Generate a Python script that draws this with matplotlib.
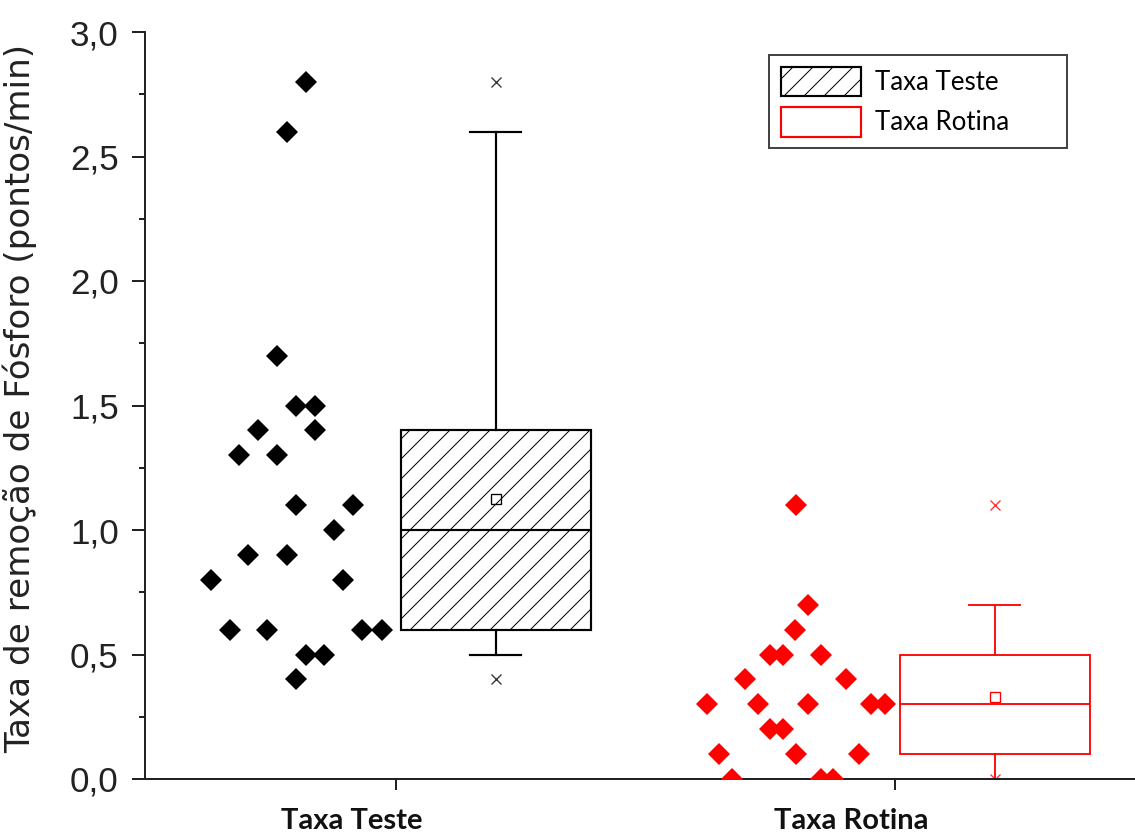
# Taxa de remoção de Fósforo: pontos + boxplot (Teste x Rotina)

import matplotlib
matplotlib.use('Agg')
import matplotlib.pyplot as plt
import matplotlib.transforms as mtransforms
from matplotlib.patches import Patch
from matplotlib.ticker import MultipleLocator
import numpy as np

categories = ['Taxa Teste', 'Taxa Rotina']

teste_vals = [2.8, 2.6, 1.7, 1.5, 1.5, 1.4, 1.4, 1.3, 1.3, 1.1, 1.1, 1.0,
              0.9, 0.9, 0.8, 0.8, 0.6, 0.6, 0.6, 0.6, 0.5, 0.5, 0.4]
teste_jitter = [-0.181, -0.219, -0.239, -0.201, -0.162, -0.277, -0.162, -0.315,
                -0.239, -0.201, -0.086, -0.125, -0.296, -0.219, -0.371, -0.106,
                -0.333, -0.258, -0.068, -0.029, -0.181, -0.144, -0.201]

rotina_vals = [1.1, 0.7, 0.6, 0.5, 0.5, 0.5, 0.4, 0.4, 0.3, 0.3, 0.3, 0.3, 0.3,
               0.2, 0.2, 0.1, 0.1, 0.1, 0.0, 0.0, 0.0]
rotina_jitter = [-0.199, -0.174, -0.200, -0.250, -0.224, -0.149, -0.301, -0.099,
                 -0.376, -0.275, -0.174, -0.048, -0.021, -0.250, -0.224, -0.352,
                 -0.199, -0.072, -0.327, -0.149, -0.124]

yticks = [0.0, 0.5, 1.0, 1.5, 2.0, 2.5, 3.0]
ytick_labels = ['0,0', '0,5', '1,0', '1,5', '2,0', '2,5', '3,0']

dpi = 120
fig = plt.figure(figsize=(1135 / dpi, 837 / dpi), dpi=dpi)
ax = fig.add_axes([145 / 1135, 58 / 837, 990 / 1135, 747 / 837])
plt.rcParams['hatch.linewidth'] = 0.6

colors = ['black', 'red']
datasets = [teste_vals, rotina_vals]
jitters = [teste_jitter, rotina_jitter]
box_shift = 0.2

# pontos
for i, (vals, jit) in enumerate(zip(datasets, jitters)):
    x = [i + 1 + j for j in jit]
    ax.plot(x, vals, linestyle='none', marker='D', ms=9.6, mew=0,
            color=colors[i], zorder=3)

# caixas
stats = []
for vals in datasets:
    v = np.array(vals)
    q1, med, q3 = np.percentile(v, [25, 50, 75])
    lo, hi = np.percentile(v, [5, 95], method='nearest')
    stats.append(dict(q1=q1, med=med, q3=q3, whislo=lo, whishi=hi,
                      mean=v.mean(), fliers=[v.min(), v.max()]))

for i, st in enumerate(stats):
    c = colors[i]
    lw = 1.3 if i == 0 else 1.1
    ax.bxp([st], positions=[i + 1 + box_shift], widths=0.38, capwidths=0.102,
           showmeans=True, patch_artist=True,
           boxprops=dict(facecolor='white', edgecolor=c, lw=lw,
                         hatch='//' if i == 0 else None),
           medianprops=dict(color=c, lw=lw),
           whiskerprops=dict(color=c, lw=lw),
           capprops=dict(color=c, lw=lw),
           meanprops=dict(marker='s', markerfacecolor='none',
                          markeredgecolor=c, markersize=5.5, mew=0.8),
           flierprops=dict(marker='x', markeredgecolor=c, markersize=5.5,
                           mew=0.8, alpha=0.8))

# eixos
ax.set_xlim(0.497, 2.481)
ax.set_ylim(0, 3.0)
ax.spines['top'].set_visible(False)
ax.spines['right'].set_visible(False)
for s in ['left', 'bottom']:
    ax.spines[s].set_linewidth(1.2)
    ax.spines[s].set_color('#222222')

ax.set_yticks(yticks)
ax.set_yticklabels(ytick_labels, family='Liberation Sans', fontsize=21,
                   color='#222222')
ax.yaxis.set_minor_locator(MultipleLocator(0.25))
ax.tick_params(axis='y', which='major', direction='out', length=7.8,
               width=1.2, pad=8, color='#222222')
ax.tick_params(axis='y', which='minor', direction='out', length=3.9,
               width=1.2, color='#222222')

ax.set_xticks([1, 2])
ax.set_xticklabels(categories, family='Lato', fontweight='bold',
                   fontsize=17.5, color='#111111')
ax.tick_params(axis='x', direction='out', length=6.6, width=1.2, pad=11,
               color='#222222')
shift = mtransforms.ScaledTranslation(-44 / dpi, 0, fig.dpi_scale_trans)
for lab in ax.get_xticklabels():
    lab.set_transform(lab.get_transform() + shift)

ax.set_ylabel('Taxa de remoção de Fósforo (pontos/min)', family='DejaVu Sans',
              fontsize=20.5, color='#222222')
ax.yaxis.set_label_coords(-0.109, 0.51)

# legenda
handles = [Patch(facecolor='white', edgecolor='black', hatch='//', lw=1.3),
           Patch(facecolor='white', edgecolor='red', lw=1.3)]
leg = ax.legend(handles, categories, loc='upper left', mode='expand',
                bbox_to_anchor=(769 / 1135, 1 - 147 / 837, 298 / 1135, 92 / 837),
                bbox_transform=fig.transFigure, borderaxespad=0,
                prop=dict(family='Lato', size=15.5), frameon=True,
                fancybox=False, framealpha=1, handlelength=3.1,
                handleheight=1.4, handletextpad=0.55, labelspacing=0.4,
                borderpad=0.45)
leg.get_frame().set_edgecolor('#444444')
leg.get_frame().set_linewidth(1.2)

savefile = 'out.png'
print('Saving figure to: ', savefile)
plt.savefig(savefile, dpi=dpi)
